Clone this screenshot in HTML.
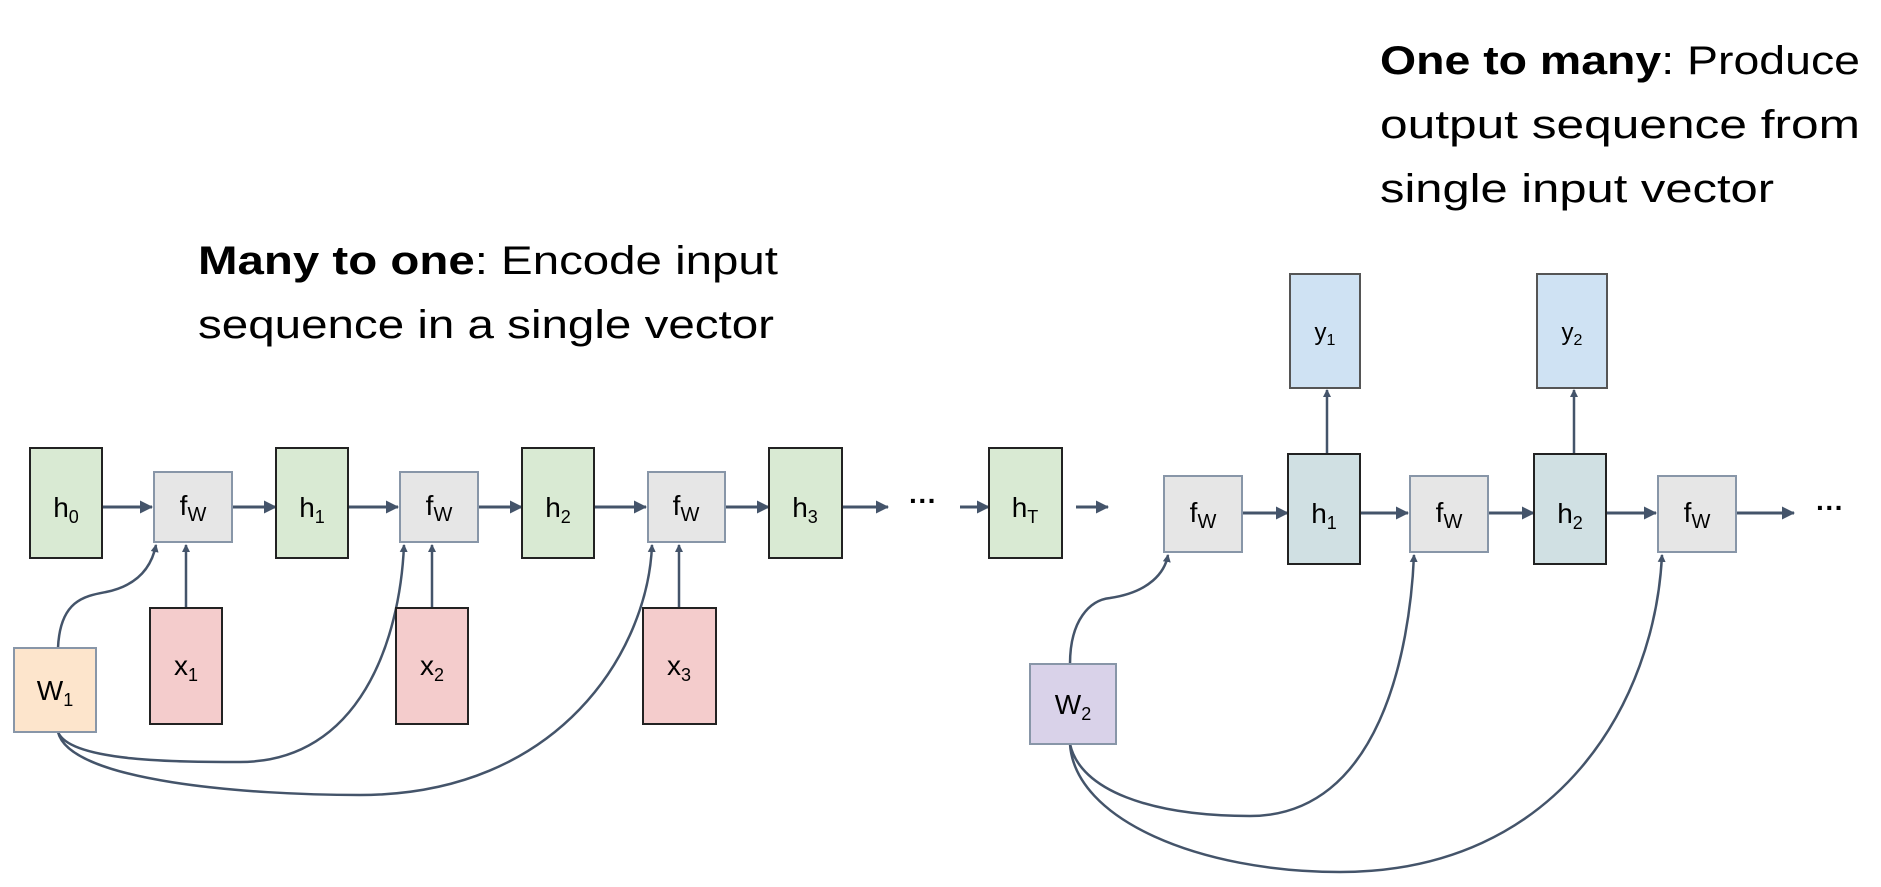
<!DOCTYPE html>
<html><head><style>body{margin:0;background:#fff}svg{display:block}</style></head><body>
<svg width="1881" height="887" viewBox="0 0 1881 887" xmlns="http://www.w3.org/2000/svg" font-family="Liberation Sans Narrow, Liberation Sans, sans-serif">
<defs><marker id="a" markerWidth="8" markerHeight="8" refX="7" refY="4" orient="auto" markerUnits="userSpaceOnUse"><path d="M0,0 L8,4 L0,8 z" fill="#44546a"/></marker>
<marker id="b" markerWidth="13" markerHeight="13" refX="12" refY="6.5" orient="auto" markerUnits="userSpaceOnUse"><path d="M0,0 L13,6.5 L0,13 z" fill="#44546a"/></marker></defs>
<g font-size="40" fill="#000">
<text x="198" y="274" textLength="580" lengthAdjust="spacingAndGlyphs"><tspan font-weight="bold">Many to one</tspan>: Encode input</text>
<text x="198" y="338" textLength="576" lengthAdjust="spacingAndGlyphs">sequence in a single vector</text>
<text x="1380" y="74" textLength="480" lengthAdjust="spacingAndGlyphs"><tspan font-weight="bold">One to many</tspan>: Produce</text>
<text x="1380" y="138" textLength="480" lengthAdjust="spacingAndGlyphs">output sequence from</text>
<text x="1380" y="202" textLength="394" lengthAdjust="spacingAndGlyphs">single input vector</text>
</g>
<g stroke="#44546a" stroke-width="3" fill="none">
<path d="M102,507 H152" marker-end="url(#b)"/><path d="M232,507 H276" marker-end="url(#b)"/>
<path d="M348,507 H398" marker-end="url(#b)"/><path d="M478,507 H522" marker-end="url(#b)"/>
<path d="M594,507 H646" marker-end="url(#b)"/><path d="M725,507 H769" marker-end="url(#b)"/>
<path d="M842,507 H888" marker-end="url(#b)"/><path d="M960,507 H989" marker-end="url(#b)"/>
<path d="M1076,507 H1108" marker-end="url(#b)"/>
<path d="M1242,513 H1288" marker-end="url(#b)"/><path d="M1360,513 H1408" marker-end="url(#b)"/>
<path d="M1488,513 H1534" marker-end="url(#b)"/><path d="M1606,513 H1656" marker-end="url(#b)"/>
<path d="M1736,513 H1794" marker-end="url(#b)"/>
</g>
<g stroke="#44546a" stroke-width="2.5" fill="none">
<path d="M186,608 V545" marker-end="url(#a)"/><path d="M432,608 V545" marker-end="url(#a)"/><path d="M679,608 V545" marker-end="url(#a)"/>
<path d="M1327,454 V390" marker-end="url(#a)"/><path d="M1574,454 V390" marker-end="url(#a)"/>
<path d="M58,648 C60,600 85,596 106,592 C140,585 152,565 156,545" marker-end="url(#a)"/>
<path d="M58,732 C70,762 180,762 240,762 C360,762 400,640 404,545" marker-end="url(#a)"/>
<path d="M58,732 C70,782 250,795 360,795 C560,795 648,650 652,545" marker-end="url(#a)"/>
<path d="M1070,664 C1070,620 1090,600 1110,598 C1150,592 1165,572 1168,555" marker-end="url(#a)"/>
<path d="M1070,744 C1080,790 1150,816 1250,816 C1380,816 1410,650 1414,555" marker-end="url(#a)"/>
<path d="M1070,744 C1075,820 1200,872 1340,872 C1560,872 1655,700 1662,555" marker-end="url(#a)"/>
</g>
<g stroke-width="2">
<g fill="#d9ead3" stroke="#222"><rect x="30" y="448" width="72" height="110"/><rect x="276" y="448" width="72" height="110"/><rect x="522" y="448" width="72" height="110"/><rect x="769" y="448" width="73" height="110"/><rect x="989" y="448" width="73" height="110"/></g>
<g fill="#e6e6e6" stroke="#8896a8"><rect x="154" y="472" width="78" height="70"/><rect x="400" y="472" width="78" height="70"/><rect x="648" y="472" width="77" height="70"/><rect x="1164" y="476" width="78" height="76"/><rect x="1410" y="476" width="78" height="76"/><rect x="1658" y="476" width="78" height="76"/></g>
<g fill="#d0e0e3" stroke="#222"><rect x="1288" y="454" width="72" height="110"/><rect x="1534" y="454" width="72" height="110"/></g>
<g fill="#cfe2f3" stroke="#555"><rect x="1290" y="274" width="70" height="114"/><rect x="1537" y="274" width="70" height="114"/></g>
<g fill="#f4cccc" stroke="#222"><rect x="150" y="608" width="72" height="116"/><rect x="396" y="608" width="72" height="116"/><rect x="643" y="608" width="73" height="116"/></g>
<rect x="14" y="648" width="82" height="84" fill="#fde5cc" stroke="#8896a8"/>
<rect x="1030" y="664" width="86" height="80" fill="#d9d2e9" stroke="#8896a8"/>
</g>
<g font-size="28" fill="#000" font-family="Liberation Sans, sans-serif" text-anchor="middle">
<text x="66" y="517">h<tspan font-size="18" dy="6">0</tspan></text>
<text x="312" y="517">h<tspan font-size="18" dy="6">1</tspan></text>
<text x="558" y="517">h<tspan font-size="18" dy="6">2</tspan></text>
<text x="805" y="517">h<tspan font-size="18" dy="6">3</tspan></text>
<text x="1025" y="517">h<tspan font-size="18" dy="6">T</tspan></text>
<text x="1324" y="523">h<tspan font-size="18" dy="6">1</tspan></text>
<text x="1570" y="523">h<tspan font-size="18" dy="6">2</tspan></text>
<text x="193" y="515">f<tspan font-size="20" dy="6">W</tspan></text>
<text x="439" y="515">f<tspan font-size="20" dy="6">W</tspan></text>
<text x="686" y="515">f<tspan font-size="20" dy="6">W</tspan></text>
<text x="1203" y="522">f<tspan font-size="20" dy="6">W</tspan></text>
<text x="1449" y="522">f<tspan font-size="20" dy="6">W</tspan></text>
<text x="1697" y="522">f<tspan font-size="20" dy="6">W</tspan></text>
<text x="186" y="675">x<tspan font-size="18" dy="6">1</tspan></text>
<text x="432" y="675">x<tspan font-size="18" dy="6">2</tspan></text>
<text x="679" y="675">x<tspan font-size="18" dy="6">3</tspan></text>
<text x="1325" y="340" font-size="24">y<tspan font-size="16" dy="5">1</tspan></text>
<text x="1572" y="340" font-size="24">y<tspan font-size="16" dy="5">2</tspan></text>
<text x="55" y="700">W<tspan font-size="18" dy="6">1</tspan></text>
<text x="1073" y="714">W<tspan font-size="18" dy="6">2</tspan></text>
<text x="923" y="510" font-weight="bold">···</text>
<text x="1830" y="517" font-weight="bold">···</text>
</g>
</svg>
</body></html>
